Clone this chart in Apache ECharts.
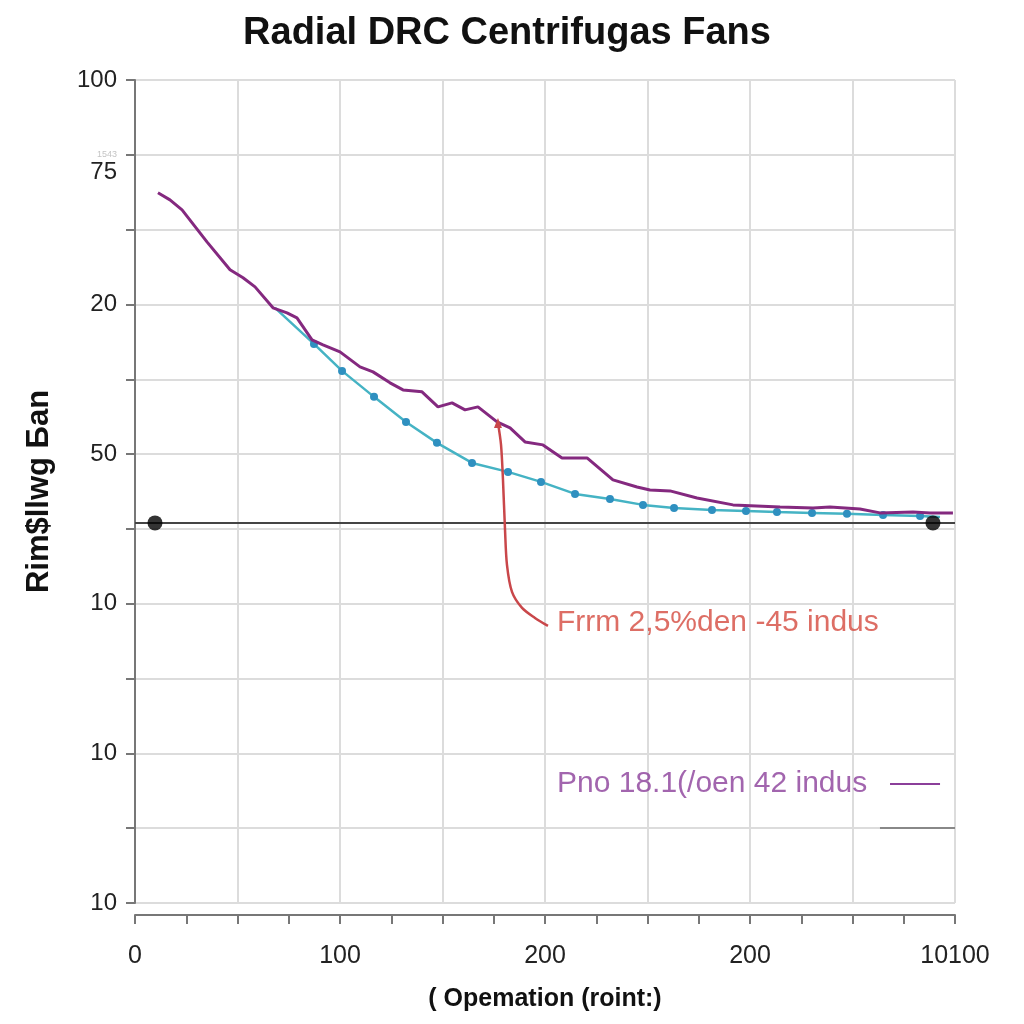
<!DOCTYPE html>
<html>
<head>
<meta charset="utf-8">
<script src="https://cdn.jsdelivr.net/npm/echarts@6/dist/echarts.min.js"></script>
<style>html,body{margin:0;padding:0;background:#fff}#c{width:1024px;height:1024px}</style>
</head>
<body>
<div id="c"></div>
<script>
const titleText = 'Radial DRC Centrifugas Fans';
const xAxisName = '( Opemation (roint:)';
const yAxisName = 'Rim$llwg Бan';
const xTickLabels = ['0','','100','','200','','200','','10100'];
const yTickLabels = ['10','','10','','10','','50','','20','','75','100'];
const yTickNote = '1543';

const purpleLine = [
  [0.224,9.492],[0.341,9.398],[0.459,9.265],[0.702,8.837],[0.927,8.463],[1.054,8.356],
  [1.171,8.235],[1.346,7.955],[1.483,7.888],[1.580,7.821],[1.727,7.527],[1.834,7.460],
  [2.000,7.366],[2.195,7.166],[2.322,7.099],[2.488,6.952],[2.615,6.858],[2.800,6.832],
  [2.956,6.631],[3.093,6.684],[3.220,6.591],[3.346,6.631],[3.532,6.430],[3.659,6.350],
  [3.805,6.163],[3.980,6.123],[4.166,5.949],[4.410,5.949],[4.663,5.655],[4.898,5.561],
  [5.024,5.521],[5.220,5.508],[5.483,5.414],[5.834,5.321],[6.293,5.294],[6.615,5.281],
  [6.780,5.294],[7.073,5.267],[7.268,5.214],[7.590,5.227],[7.756,5.214],[7.980,5.214]
];
const cyanStart = [1.366,7.955];
const cyanPoints = [
  [1.746,7.473],[2.020,7.112],[2.332,6.765],[2.644,6.430],[2.946,6.150],[3.288,5.882],
  [3.639,5.762],[3.961,5.628],[4.293,5.468],[4.634,5.401],[4.956,5.321],[5.259,5.281],
  [5.629,5.254],[5.961,5.241],[6.263,5.227],[6.605,5.214],[6.946,5.201],[7.298,5.187],
  [7.659,5.174]
];
const cyanEnd = [7.854,5.160];
const refLevel = 5.08;
const refLineX = [0, 8];
const refDotsX = [0.195, 7.785];
const redCurve = [
  [3.541,6.417],[3.571,6.123],[3.590,5.655],[3.610,4.987],[3.629,4.519],
  [3.678,4.158],[3.776,3.944],[3.902,3.810],[4.029,3.703]
];
const redLabel = {text:'Frrm 2,5%den -45 indus', pos:[4.117,3.743]};
const purpleLabel = {text:'Pno 18.1(/oen 42 indus', pos:[4.117,1.591]};
const purpleDash = [[7.366,1.591],[7.854,1.591]];
const grayDash = [[7.268,1.003],[8.0,1.003]];

const chart = echarts.init(document.getElementById('c'));
const font = 'Liberation Sans, Arial, sans-serif';
const narrow = 'Liberation Sans Narrow, Liberation Sans, Arial, sans-serif';

const option = {
  backgroundColor: '#ffffff',
  animation: false,
  title: {
    text: titleText, left: 502, top: 10, textAlign: 'center',
    textStyle: {fontFamily: font, fontSize: 38, fontWeight: 'bold', color: '#111'}
  },
  grid: {left: 135, right: 69, top: 80, bottom: 121, containLabel: false},
  xAxis: {
    type: 'value', min: 0, max: 8, interval: 1, offset: 12,
    name: xAxisName, nameLocation: 'middle', nameGap: 72,
    nameTextStyle: {fontFamily: narrow, fontSize: 25, color: '#111', fontWeight: 'bold'},
    axisLine: {show: true, onZero: false, lineStyle: {color: '#777', width: 2}},
    axisTick: {show: true, length: 9, lineStyle: {color: '#777', width: 2}},
    minorTick: {show: true, splitNumber: 2, length: 9, lineStyle: {color: '#777', width: 2}},
    axisLabel: {
      margin: 29, fontFamily: narrow, fontSize: 25, color: '#222',
      formatter: v => xTickLabels[Math.round(v)] || ''
    },
    splitLine: {show: true, lineStyle: {color: '#dcdcdc', width: 2}}
  },
  yAxis: {
    type: 'value', min: 0, max: 11, interval: 1,
    name: yAxisName, nameLocation: 'middle', nameGap: 80,
    nameTextStyle: {fontFamily: font, fontSize: 31, color: '#111', fontWeight: 'bold'},
    axisLine: {show: true, lineStyle: {color: '#777', width: 2}},
    axisTick: {show: true, length: 9, lineStyle: {color: '#777', width: 2}},
    axisLabel: {
      margin: 18, fontFamily: font, fontSize: 24, color: '#222',
      formatter: v => {
        const i = Math.round(v);
        const t = yTickLabels[i] || '';
        if (i === 10) return '{s|' + yTickNote + '}\n{n|' + t + '}';
        return t;
      },
      rich: {
        s: {fontSize: 9, color: '#c4c4c4', lineHeight: 36, verticalAlign: 'bottom', align: 'right'},
        n: {fontSize: 24, color: '#222', lineHeight: 28, align: 'right'}
      }
    },
    splitLine: {show: true, lineStyle: {color: '#dcdcdc', width: 2}}
  },
  series: [
    {
      type: 'line', name: 'ref',
      data: [[refLineX[0], refLevel], [refLineX[1], refLevel]],
      symbol: 'none', lineStyle: {color: '#444', width: 2}, z: 2
    },
    {
      type: 'scatter', name: 'refDots',
      data: refDotsX.map(x => [x, refLevel]),
      symbolSize: 15, itemStyle: {color: '#000'}, z: 6
    },
    {
      type: 'line', name: 'cyan',
      data: [{value: cyanStart, symbol: 'none'}].concat(cyanPoints.map(p => ({value: p})), [{value: cyanEnd, symbol: 'none'}]),
      symbol: 'circle', symbolSize: 8, showAllSymbol: true,
      lineStyle: {color: '#45b3c4', width: 2.5},
      itemStyle: {color: '#2f90c0', borderWidth: 0}, z: 3
    },
    {
      type: 'line', name: 'purple',
      data: purpleLine, symbol: 'none',
      lineStyle: {color: '#84297f', width: 3}, z: 4
    },
    {
      type: 'line', name: 'arrow',
      data: redCurve.map((p, i) => i === 0 ? {value: p, symbol: 'triangle', symbolSize: [8, 10]} : {value: p}),
      symbol: 'none', smooth: 0.3,
      lineStyle: {color: '#c9474a', width: 2.5},
      itemStyle: {color: '#c9474a'}, z: 5
    },
    {
      type: 'scatter', name: 'labels',
      data: [
        {value: redLabel.pos, label: {formatter: redLabel.text, color: '#d44a3e'}},
        {value: purpleLabel.pos, label: {formatter: purpleLabel.text, color: '#8b3f9a'}}
      ],
      symbolSize: 0, silent: true,
      label: {show: true, position: 'right', distance: 0, fontFamily: font, fontSize: 30}, z: 7
    },
    {
      type: 'line', name: 'pdash', data: purpleDash, symbol: 'none',
      lineStyle: {color: '#8b3f9a', width: 2}
    },
    {
      type: 'line', name: 'gdash', data: grayDash, symbol: 'none',
      lineStyle: {color: '#888', width: 2}
    }
  ]
};
chart.setOption(option);
</script>
</body>
</html>
